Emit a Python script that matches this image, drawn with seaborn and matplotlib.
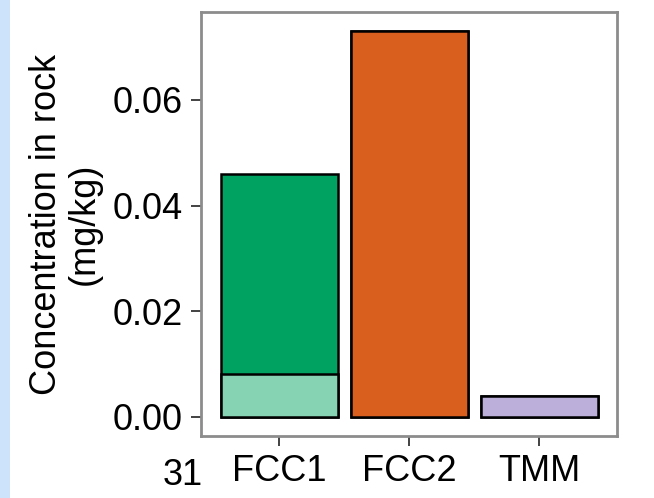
import matplotlib
matplotlib.use("Agg")
import matplotlib.pyplot as plt
import seaborn as sns
import pandas as pd
from matplotlib.patches import Rectangle

# Data (mg/kg)
sites = ["FCC1", "FCC2", "TMM"]
lower_part = [0.008, 0.073, 0.004]
upper_part = [0.038, 0.0, 0.0]
yticks = [0.00, 0.02, 0.04, 0.06]

lower_colors = ["#85D3B3", "#D95F1F", "#BCB0DA"]
upper_colors = ["#00A262", "#D95F1F", "#BCB0DA"]

df = pd.DataFrame({"site": sites, "lower": lower_part, "upper": upper_part})
df["total"] = df["lower"] + df["upper"]

sns.set_theme(style="white")
plt.rcParams["font.family"] = ["Liberation Sans", "DejaVu Sans"]
plt.rcParams["text.color"] = "black"
plt.rcParams["axes.labelcolor"] = "black"
plt.rcParams["xtick.color"] = "black"
plt.rcParams["ytick.color"] = "black"

fig = plt.figure(figsize=(6.54, 4.98), dpi=100)
ax = fig.add_axes([201 / 654, 62 / 498, 416 / 654, 424 / 498])

# total bars first, then the lower component over them
sns.barplot(data=df, x="site", y="total", hue="site", palette=upper_colors,
            saturation=1, width=0.9, edgecolor="black", linewidth=1.8,
            legend=False, ax=ax)
sns.barplot(data=df, x="site", y="lower", hue="site", palette=lower_colors,
            saturation=1, width=0.9, edgecolor="black", linewidth=1.8,
            legend=False, ax=ax)

ymax = df["total"].max()
ax.set_ylim(-0.05 * ymax, 1.05 * ymax)
ax.set_xlim(-0.6, 2.6)
ax.set_yticks(yticks)
ax.set_yticklabels([f"{t:.2f}" for t in yticks])

ax.set_xlabel("")
ax.set_ylabel("Concentration in rock\n(mg/kg)", fontsize=26, linespacing=1.1, labelpad=8)
ax.tick_params(axis="both", which="major", length=7, width=1.2, color="#222222",
               labelsize=26, labelcolor="black", pad=6, left=True, bottom=True)
for s in ax.spines.values():
    s.set_color("#8C8C8C")
    s.set_linewidth(2)

# light blue strip on the left edge and the stray page number
fig.patches.append(Rectangle((0, 0), 10 / 654, 1, transform=fig.transFigure,
                             facecolor="#CDE3FB", edgecolor="none"))
fig.text(163 / 654, 13 / 498, "31", fontsize=26)

fig.savefig("out.png", dpi=100)
